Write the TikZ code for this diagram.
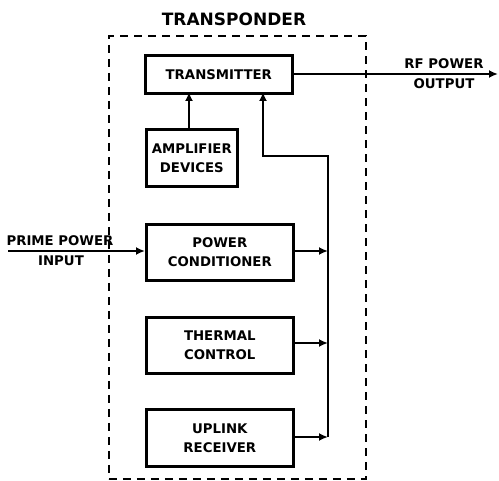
\documentclass[tikz,border=0pt]{standalone}
\usepackage{fontspec}
\setmainfont{DejaVu Sans}
\usetikzlibrary{arrows.meta}
\begin{document}
\begin{tikzpicture}[x=1pt,y=-1pt,
  blk/.style={draw,line width=2.6pt,inner sep=0pt,align=center,font=\bfseries\fontsize{13.3}{19}\selectfont},
  lbl/.style={inner sep=0pt,align=center,font=\bfseries\fontsize{13.3}{19}\selectfont},
  conn/.style={line width=2.2pt,-{Latex[length=9pt,width=8pt]}},
  frame/.style={draw,line width=1.6pt,dash pattern=on 8pt off 6pt}]
\useasboundingbox (0,0) rectangle (499,481);
\node[frame,minimum width=257pt,minimum height=443pt,anchor=north west] (box) at (108,35) {};
\node[lbl,font=\bfseries\fontsize{17}{20}\selectfont] (title) at (234,19) {TRANSPONDER};
\node[blk,minimum width=147pt,minimum height=38pt,anchor=north west] (tx) at (144,54) {TRANSMITTER};
\node[blk,minimum width=91pt,minimum height=57pt,anchor=north west] (amp) at (145,128) {AMPLIFIER\\DEVICES};
\node[blk,minimum width=147pt,minimum height=56pt,anchor=north west] (pc) at (145,223) {POWER\\CONDITIONER};
\node[blk,minimum width=147pt,minimum height=56pt,anchor=north west] (tc) at (145,316) {THERMAL\\CONTROL};
\node[blk,minimum width=147pt,minimum height=57pt,anchor=north west] (ur) at (145,408) {UPLINK\\RECEIVER};
\coordinate (pin) at (8,251);
\coordinate (rfout) at (498,74);
\coordinate (bpc) at (328,251);
\coordinate (btc) at (328,343);
\coordinate (bur) at (328,437);
\coordinate (bend1) at (328,156);
\coordinate (bend2) at (263,156);
\node[lbl] (pinlbl1) at (60,241) {PRIME POWER};
\node[lbl] (pinlbl2) at (61,261) {INPUT};
\node[lbl] (rflbl1) at (444,64) {RF POWER};
\node[lbl] (rflbl2) at (444,84) {OUTPUT};
\draw[conn] (pin) -- (pc.west |- pin);
\draw[conn] (tx.east |- rfout) -- (rfout);
\draw[conn] (amp.north -| 189,0) -- (189,92);
\draw[conn] (pc.east |- bpc) -- (bpc);
\draw[conn] (tc.east |- btc) -- (btc);
\draw[conn] (ur.east |- bur) -- (bur);
\draw[conn,line join=miter] (bur) -- (bend1) -- (bend2) -- (263,92);
\end{tikzpicture}
\end{document}
